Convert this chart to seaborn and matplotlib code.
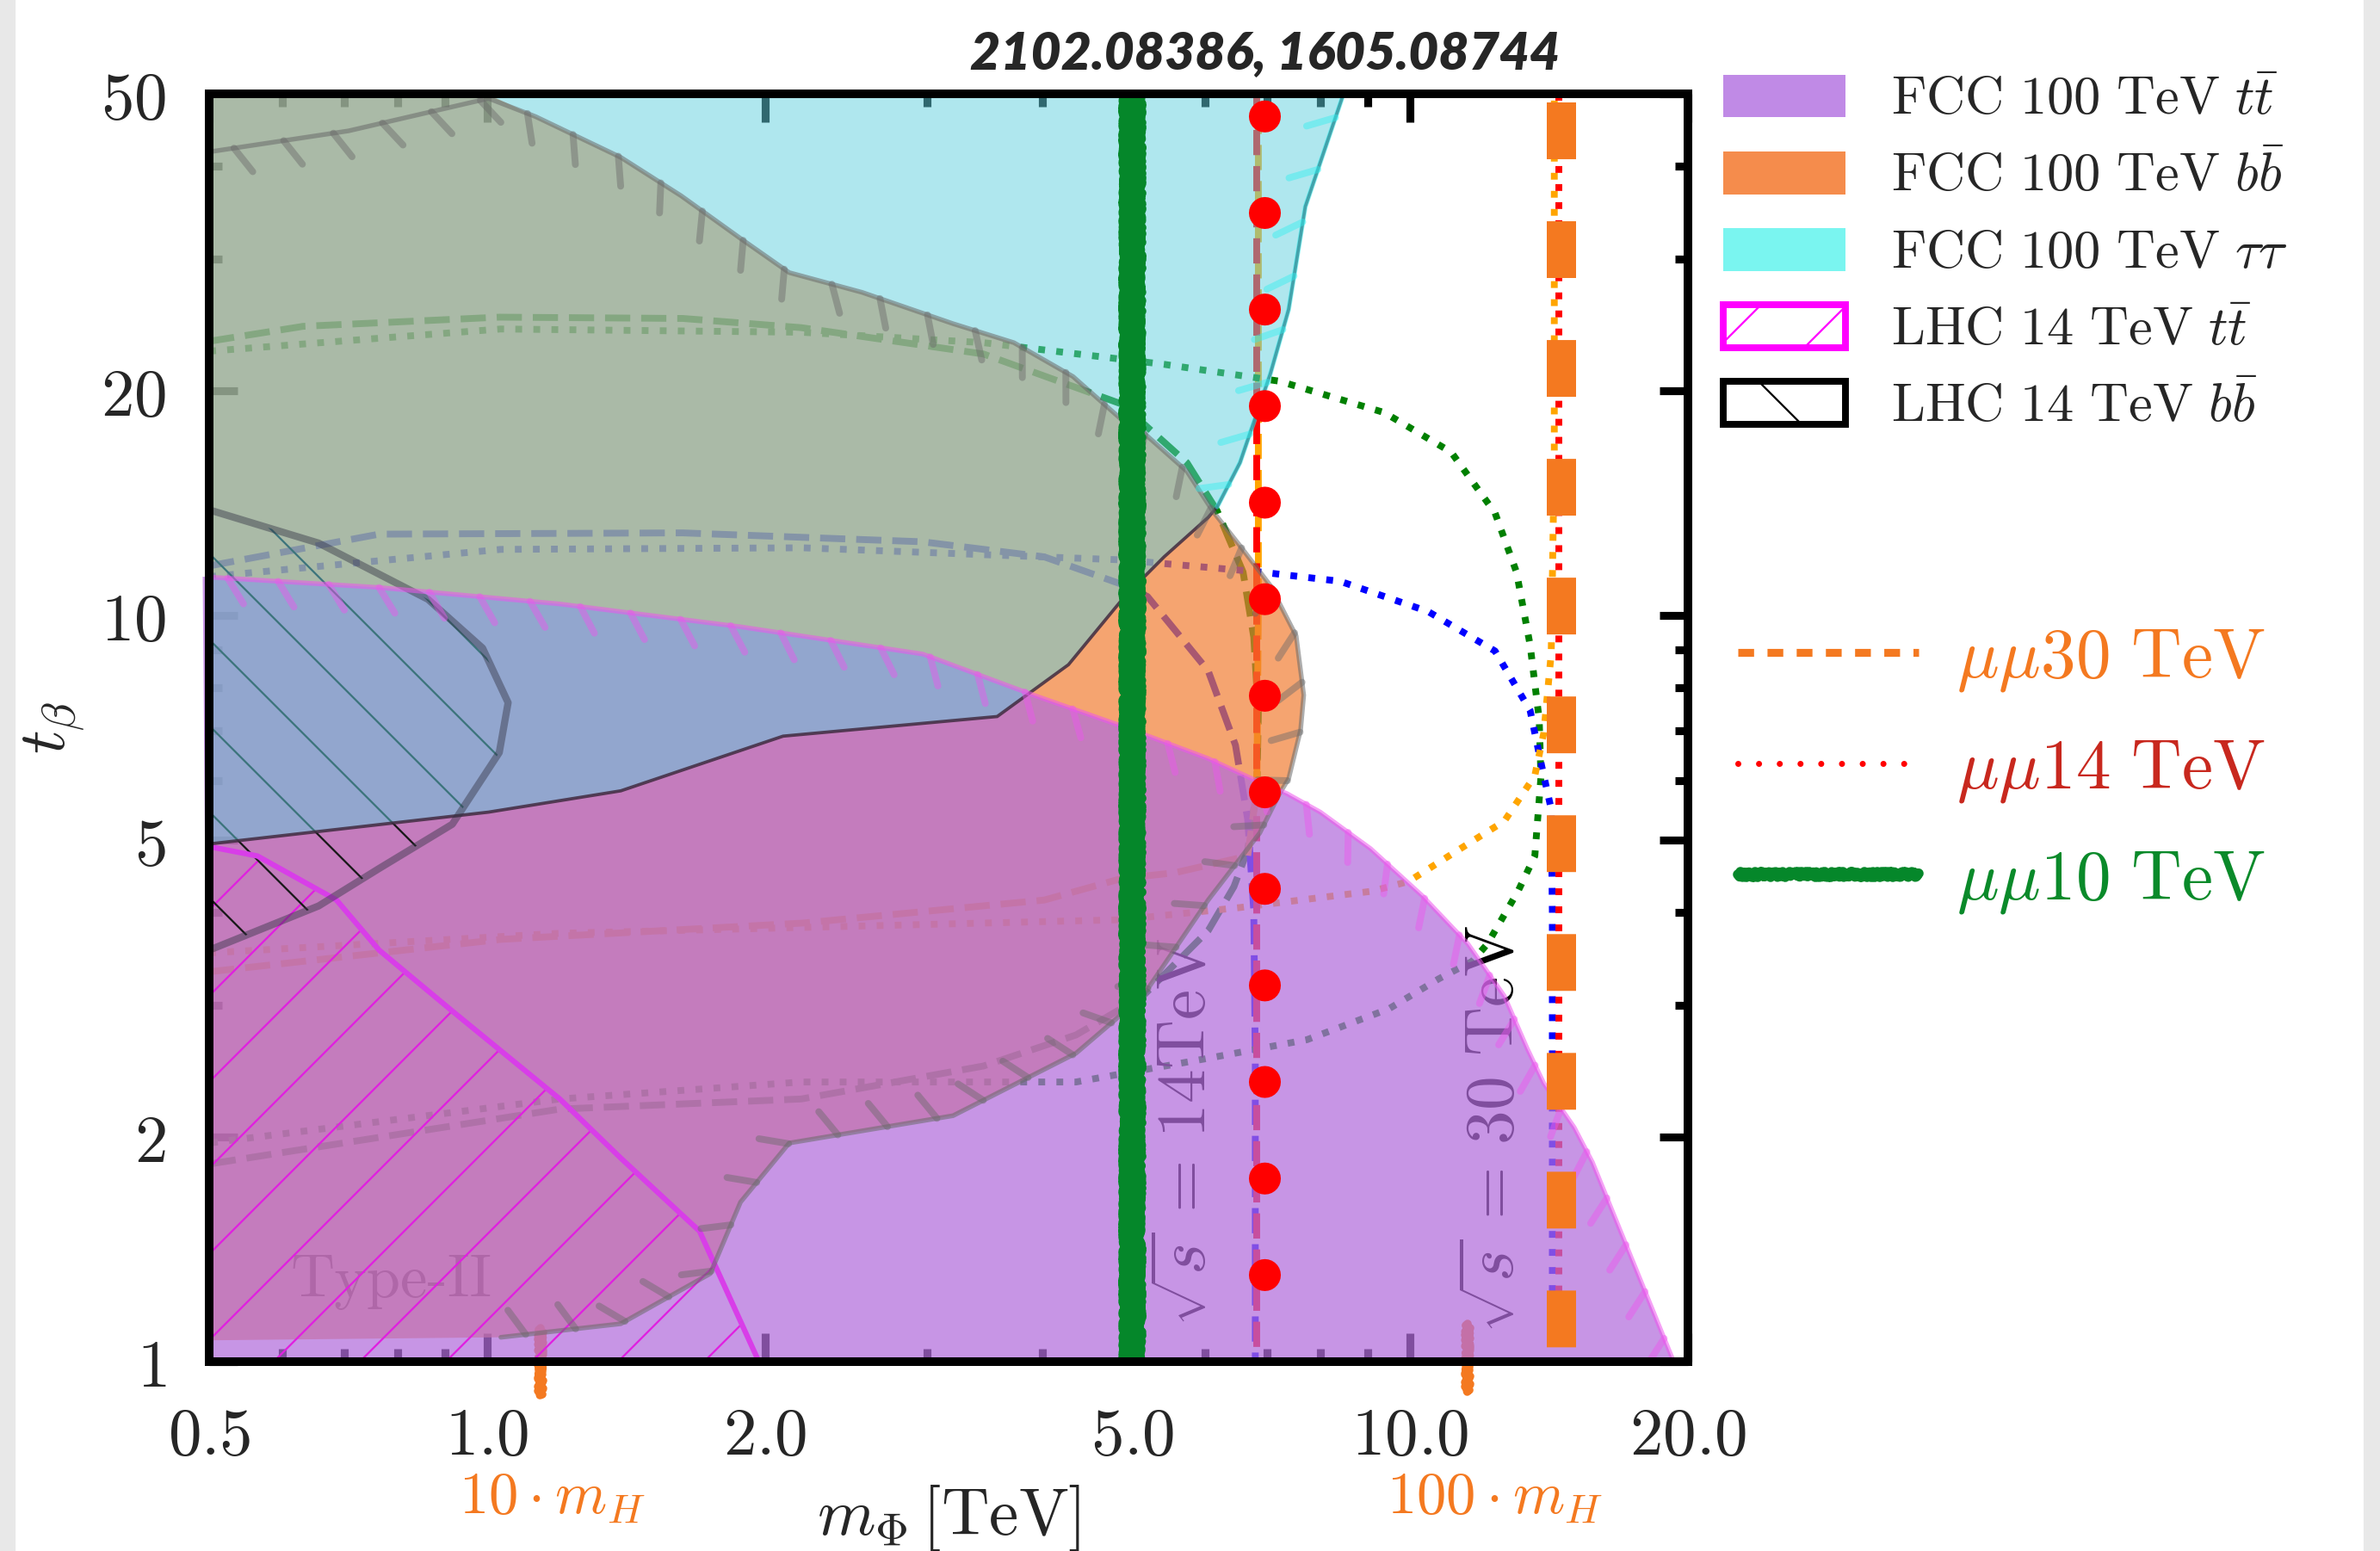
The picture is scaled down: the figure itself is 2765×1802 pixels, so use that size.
import numpy as np
import pandas as pd
import seaborn as sns
import matplotlib
matplotlib.use("Agg")
import matplotlib.pyplot as plt
from matplotlib import patheffects as pe
from matplotlib.patches import Patch, Rectangle
from matplotlib.lines import Line2D
from matplotlib.transforms import blended_transform_factory

# ------------------------------------------------------------------
# data : m_Phi [TeV] , tan(beta)
# ------------------------------------------------------------------
x_ticks = [0.5, 1.0, 2.0, 5.0, 10.0, 20.0]
x_ticklabels = ["0.5", "1.0", "2.0", "5.0", "10.0", "20.0"]
x_minor = [0.6, 0.7, 0.8, 0.9, 3, 4, 6, 7, 8, 9]
y_ticks = [1, 2, 5, 10, 20, 50]
y_ticklabels = ["1", "2", "5", "10", "20", "50"]
y_minor = [3, 4, 6, 7, 8, 9, 30, 40]

# FCC 100 TeV b bbar excluded region (polygon)
fcc_bb_m = [0.5, 1.0, 1.129, 1.396, 1.623, 1.882, 2.125, 2.548, 3.198, 3.722, 4.313,
            4.869, 5.135, 5.731, 6.112, 6.542, 7.059, 7.526, 7.67, 7.61, 7.386, 7.22,
            6.873, 6.043, 5.135, 4.346, 3.198, 2.125, 1.882, 1.745, 1.396, 1.035, 0.5]
fcc_bb_t = [50, 50, 46.6, 41.1, 36.5, 32.0, 28.8, 27.1, 24.6, 23.2, 20.9,
            18.3, 17.6, 15.6, 13.8, 12.4, 10.96, 9.39, 7.82, 7.02, 6.04, 5.77,
            5.11, 4.155, 3.09, 2.59, 2.136, 1.963, 1.636, 1.312, 1.124, 1.078, 1.068]
fcc_bb_corner_m = [0.5, 0.708, 1.004]
fcc_bb_corner_t = [41.8, 44.6, 49.3]

# FCC 100 TeV t tbar excluded region (upper boundary, closed to tan b = 1)
fcc_tt_m = [0.5, 0.492, 0.764, 1.199, 1.882, 2.965, 3.909, 4.852, 6.043, 6.745, 7.357,
            7.995, 9.06, 10.31, 11.55, 12.65, 13.39, 13.96, 15.06, 15.76, 19.3]
fcc_tt_t = [1.0, 11.27, 10.90, 10.36, 9.655, 8.876, 7.82, 7.12, 6.43, 6.04, 5.77,
            5.45, 4.87, 4.21, 3.63, 3.09, 2.63, 2.36, 2.06, 1.85, 1.0]

# FCC 100 TeV tau tau excluded region (polygon)
fcc_tau_m = [0.5, 0.5, 1.004, 1.396, 2.093, 3.570, 4.265, 4.906, 5.414, 6.043, 6.181,
             6.542, 7.059, 7.386, 7.70, 8.47]
fcc_tau_t = [50, 4.94, 5.45, 5.82, 6.89, 7.32, 8.59, 10.60, 11.98, 13.53, 13.98,
             16.02, 21.1, 25.7, 35.3, 50]

# LHC 14 TeV t tbar (below curve)
lhc_tt_m = [0.5, 0.564, 0.687, 0.764, 0.917, 1.199, 1.396, 1.699, 1.970, 0.5]
lhc_tt_t = [4.90, 4.76, 4.155, 3.56, 2.95, 2.249, 1.874, 1.496, 1.0, 1.0]

# LHC 14 TeV b bbar (closed region at the left edge)
lhc_bb_m = [0.5, 0.657, 0.863, 0.989, 1.054, 1.031, 0.917, 0.764, 0.657, 0.5]
lhc_bb_t = [13.85, 12.50, 10.51, 9.04, 7.64, 6.55, 5.25, 4.58, 4.08, 3.56]

# sqrt(s)=14 TeV reach contours (dashed)
d14_green_m = [0.5, 0.632, 1.031, 1.630, 2.19, 3.451, 4.869, 5.135, 5.731, 6.181, 6.593,
               6.771, 6.849, 6.823, 6.669, 6.444, 6.043, 5.135, 4.346, 3.451, 2.19, 1.199, 0.5]
d14_green_t = [23.3, 24.4, 25.1, 25.0, 24.3, 22.4, 19.2, 18.1, 16.02, 13.8, 11.43,
               9.35, 7.39, 5.85, 4.85, 4.33, 3.78, 3.09, 2.74, 2.49, 2.249, 2.18, 1.84]
d14_blue_m = [0.5, 0.764, 1.630, 2.965, 4.015, 4.869, 5.194, 6.043, 6.469, 6.669, 6.771, 6.797, 6.797]
d14_blue_t = [11.65, 12.85, 12.9, 12.55, 11.98, 11.01, 10.60, 8.43, 6.70, 5.33, 4.02, 2.52, 1.0]
d14_orange_m = [0.5, 1.035, 2.198, 4.015, 4.869, 5.561, 6.669, 6.823, 6.849, 6.849]
d14_orange_t = [3.33, 3.68, 3.87, 4.155, 4.44, 4.52, 4.76, 5.85, 10.26, 50]

# sqrt(s)=30 TeV reach contours (dotted)
d30_green_m = [0.5, 1.035, 2.19, 3.451, 5.414, 7.22, 9.376, 11.08, 12.36, 13.04, 13.49,
               13.80, 13.86, 13.65, 13.09, 12.13, 11.68, 10.75, 9.483, 7.729, 6.043,
               4.346, 2.19, 1.199, 0.5]
d30_green_t = [22.6, 24.2, 23.96, 23.2, 21.7, 20.6, 18.7, 16.55, 13.72, 11.43, 9.13,
               7.26, 6.07, 4.76, 4.27, 3.63, 3.44, 3.26, 2.97, 2.70, 2.55,
               2.37, 2.37, 2.249, 1.963]
d30_blue_m = [0.5, 1.035, 2.198, 4.869, 6.901, 8.40, 10.46, 12.36, 13.49, 13.91, 14.22, 14.26, 14.26]
d30_blue_t = [11.27, 12.26, 12.32, 11.87, 11.43, 11.11, 10.12, 8.96, 7.46, 6.22, 5.50, 4.02, 1.0]
d30_orange_m = [0.5, 1.199, 4.869, 6.542, 9.096, 9.962, 11.64, 12.65, 13.65, 13.96, 14.22, 14.33, 14.33]
d30_orange_t = [3.53, 3.75, 3.91, 4.06, 4.27, 4.40, 4.97, 5.30, 6.10, 6.96, 8.9, 16.4, 50]

# kinematic limits m = sqrt(s)/2 of the muon colliders
mu10_m = 5.0
mu10_side_m = [4.965, 5.035]
mu14_m = 6.95
mu14_thin_m = 6.82
mu30_m = 14.6
mu30_thin_m = 14.5
tb_range = [50, 1]

# 10 m_H and 100 m_H marks
mh_marks_m = [1.142, 11.55]
mh_marks_top = [1.11, 1.125]
mh_marks_bot = [0.902, 0.911]
mh_labels = [r"$10\cdot m_H$", r"$100\cdot m_H$"]
mh_label_m = [1.177, 12.36]

legend1_labels = [r"$\mathrm{FCC\ 100\ TeV}\ t\bar{t}$", r"$\mathrm{FCC\ 100\ TeV}\ b\bar{b}$",
                  r"$\mathrm{FCC\ 100\ TeV}\ \tau\tau$", r"$\mathrm{LHC\ 14\ TeV}\ t\bar{t}$",
                  r"$\mathrm{LHC\ 14\ TeV}\ b\bar{b}$"]
legend2_labels = [r"$\mu\mu30\ \mathrm{TeV}$", r"$\mu\mu14\ \mathrm{TeV}$", r"$\mu\mu10\ \mathrm{TeV}$"]

# ------------------------------------------------------------------
sns.set_theme(style="white")
plt.rcParams["mathtext.fontset"] = "cm"
plt.rcParams["font.family"] = ["DejaVu Serif"]
plt.rcParams["hatch.linewidth"] = 0.55
plt.rcParams["axes.unicode_minus"] = False

W, H, DPI = 2765, 1802, 300
fig = plt.figure(figsize=(W / DPI, H / DPI), dpi=DPI, facecolor="white")
ax = fig.add_axes([243 / W, 1 - 1582 / H, (1961 - 243) / W, (1582 - 109) / H])
ax.set_facecolor("white")
ax.set_xscale("log")
ax.set_yscale("log")
ax.set_xlim(0.5, 20)
ax.set_ylim(1, 50)

# grey side strips of the figure
fig.add_artist(Rectangle((0, 0), 16 / W, 1, transform=fig.transFigure, color="#e8e8e8", zorder=0))
fig.add_artist(Rectangle((1 - 17 / W, 0), 17 / W, 1, transform=fig.transFigure, color="#e8e8e8", zorder=0))

# ------------------------- contour lines (under the fills) ------------
LW_C = 1.9
def contour(mx, ty, color, ls):
    sns.lineplot(x=mx, y=ty, sort=False, estimator=None, color=color, lw=LW_C,
                 linestyle=ls, ax=ax, zorder=1)

contour(d14_green_m, d14_green_t, "#008000", "--")
contour(d14_blue_m, d14_blue_t, "#0000ff", "--")
contour(d14_orange_m, d14_orange_t, "#ffa500", "--")
contour(d30_green_m, d30_green_t, "#008000", ":")
contour(d30_blue_m, d30_blue_t, "#0000ff", ":")
contour(d30_orange_m, d30_orange_t, "#ffa500", ":")
contour([mu14_thin_m, mu14_thin_m], tb_range, "#ff0000", "--")
contour([mu30_thin_m, mu30_thin_m], tb_range, "#ff0000", ":")

# texts under the fills
ax.text(0.788, 1.276, "Type-II", fontfamily="cmr10", fontsize=17, ha="center", va="center",
        color="black", zorder=1)
ax.text(5.73, 2.03, r"$\sqrt{s}\,=\,14\mathrm{TeV}$", rotation=90, fontsize=19, ha="center",
        va="center", color="black", zorder=1)
ax.text(12.36, 2.05, r"$\sqrt{s}\,=\,30\ \mathrm{TeV}$", rotation=90, fontsize=19, ha="center",
        va="center", color="black", zorder=1)

# m_H marks
for mx, t0, t1 in zip(mh_marks_m, mh_marks_top, mh_marks_bot):
    l = ax.plot([mx, mx], [t0, t1], color="#f47920", lw=2.3, zorder=1, clip_on=False)[0]
    l.set_sketch_params(scale=3, length=6, randomness=3)
tr = blended_transform_factory(ax.transData, fig.transFigure)
for mx, lab in zip(mh_label_m, mh_labels):
    ax.text(mx, 1 - 1740 / H, lab, transform=tr, color="#f47920", fontsize=16.5,
            ha="center", va="center")

# ------------------------- filled regions -----------------------------
C_OR, A_OR = "#f17e33", 0.70
C_PU, A_PU = "#b26ddc", 0.72
C_CY, A_CY = "#61d1df", 0.50
ax.fill(fcc_bb_m, fcc_bb_t, color=C_OR, alpha=A_OR, lw=0, zorder=3.0)
ax.fill(fcc_tt_m, fcc_tt_t, color=C_PU, alpha=A_PU, lw=0, zorder=3.1, clip_on=False)
ax.fill(lhc_tt_m, lhc_tt_t, facecolor="none", edgecolor="#e020e0", hatch="/", lw=0, zorder=3.2)
ax.fill(lhc_bb_m, lhc_bb_t, facecolor="none", edgecolor="#1a1a1a", hatch="\\", lw=0, zorder=3.2)
sns.lineplot(x=lhc_tt_m[:-1], y=lhc_tt_t[:-1], sort=False, estimator=None, color="#d83ee8",
             lw=1.5, ax=ax, zorder=3.25)
ax.fill(fcc_tau_m, fcc_tau_t, facecolor=(97 / 255, 209 / 255, 223 / 255, A_CY),
        edgecolor=(0.25, 0.17, 0.25, 0.85), lw=0.9, zorder=3.3)
sns.lineplot(x=lhc_bb_m, y=lhc_bb_t, sort=False, estimator=None, color="#333344", alpha=0.45,
             lw=2.0, ax=ax, zorder=3.35)

# ticked exclusion borders
def ticked(mx, ty, color, angle):
    l = ax.plot(mx, ty, color=color, alpha=0.55, lw=1.3, zorder=4)[0]
    l.set_path_effects([pe.withTickedStroke(spacing=14, angle=angle, length=0.6,
                                            linewidth=1.9, foreground=color, alpha=0.45)])

ticked(fcc_bb_corner_m + fcc_bb_m[2:-1], fcc_bb_corner_t + fcc_bb_t[2:-1], "#6a6a6a", -60)
ticked(fcc_tt_m[1:], fcc_tt_t[1:], "#ee55ee", -55)
ticked(fcc_tau_m[10:], fcc_tau_t[10:], "#33eeee", 125)

# ------------------------- muon collider lines ------------------------
g = ax.plot([mu10_m, mu10_m], tb_range, color="#05872a", lw=5.2, zorder=6,
            solid_capstyle="butt")[0]
g.set_sketch_params(scale=5, length=5, randomness=4)
for k, ms in enumerate(mu10_side_m):
    gs = ax.plot([ms, ms], tb_range, color="#05872a", lw=2.6, zorder=6,
                 solid_capstyle="butt")[0]
    gs.set_sketch_params(scale=6 + k, length=4 + 2 * k, randomness=5)
ax.plot([mu14_m, mu14_m], tb_range, color="#ff0000", lw=8.9, zorder=7,
        linestyle=(2.33, (0.001, 3.024)), dash_capstyle="round")
ax.plot([mu30_m, mu30_m], tb_range, color="#f47920", lw=8.16, zorder=6,
        linestyle=(3.766, (1.94, 2.12)), dash_capstyle="butt")

# ------------------------- axes styling -------------------------------
ax.set_xticks(x_ticks)
ax.set_xticklabels([f"${s}$" for s in x_ticklabels], fontsize=18.5)
ax.set_xticks(x_minor, minor=True)
ax.set_xticklabels([], minor=True)
ax.set_yticks(y_ticks)
ax.set_yticklabels([f"${s}$" for s in y_ticklabels], fontsize=18.5)
ax.set_yticks(y_minor, minor=True)
ax.set_yticklabels([], minor=True)
ax.tick_params(which="both", direction="in", top=True, right=True, left=True, bottom=True,
               color="black", width=2.2)
ax.tick_params(which="major", length=8, pad=12)
ax.tick_params(which="minor", length=3.6)
for s in ax.spines.values():
    s.set_color("black")
    s.set_linewidth(2.4)
    s.set_zorder(10)

ax.set_xlabel(r"$m_\Phi\,[\mathrm{TeV}]$", fontsize=18.5, labelpad=4)
ax.set_ylabel(r"$t_\beta$", fontsize=18.5, labelpad=4)

fig.text(1470 / W, 1 - 62 / H, "2102.08386, 1605.08744", fontfamily="Lato", fontweight="heavy",
         fontstyle="italic", fontsize=14.6, ha="center", va="center")

# ------------------------- legends ------------------------------------
h1 = [Patch(facecolor="#c08ae6", edgecolor="none"),
      Patch(facecolor="#f58c4c", edgecolor="none"),
      Patch(facecolor="#7af5f0", edgecolor="none"),
      Patch(facecolor="white", edgecolor="#ff00ff", hatch="/", lw=1.9),
      Patch(facecolor="white", edgecolor="black", hatch="\\", lw=1.9)]
fig.legend(h1, legend1_labels, loc="upper left", bbox_to_anchor=(2002 / W, 1 - 85 / H),
           frameon=False, fontsize=15, handlelength=2.27, handleheight=0.85,
           handletextpad=0.85, labelspacing=0.45, borderpad=0, borderaxespad=0)

l30 = Line2D([], [], color="#f47920", lw=2.2, linestyle=(0, (2.0, 1.7)))
l14 = Line2D([], [], color="#ff0000", lw=1.7, linestyle=(0, (0.001, 3.4)), dash_capstyle="round")
l10 = Line2D([], [], color="#05872a", lw=2.8)
l10.set_sketch_params(scale=3, length=4, randomness=4)
fig.legend([l30, l14, l10], legend2_labels, loc="upper left",
           bbox_to_anchor=(2019 / W, 1 - 725 / H), frameon=False, fontsize=19.5,
           handlelength=2.58, handletextpad=0.55, labelspacing=0.6, borderpad=0,
           borderaxespad=0, labelcolor=["#f47920", "#c8281e", "#0a8a2a"])

fig.savefig("out.png", dpi=DPI, facecolor="white")
